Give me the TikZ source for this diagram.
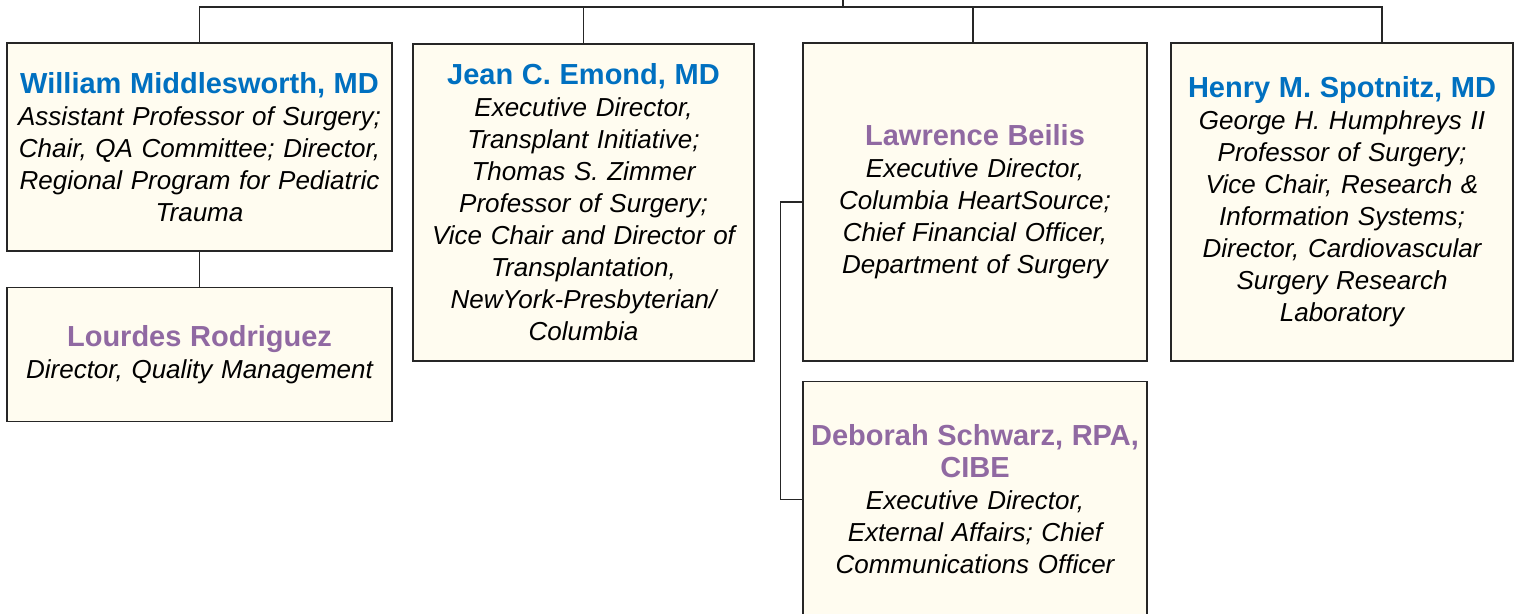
\documentclass[tikz,border=0pt]{standalone}
\usepackage{fontspec}
\setmainfont{Liberation Sans}
\usepackage{xcolor}
\usetikzlibrary{positioning,calc}
\definecolor{NB}{HTML}{0070C0}
\definecolor{NP}{HTML}{9069A2}
\definecolor{BoxFill}{HTML}{FFFCF0}
\newcommand{\pname}[2]{{\color{#1}\fontsize{29}{33}\selectfont\upshape\bfseries #2}}

\begin{document}
\begin{tikzpicture}[x=1pt, y=-1pt,
    person/.style={draw=black!85, line width=1.6pt, fill=BoxFill,
      inner sep=0pt, align=center,
      font=\fontsize{26}{32}\selectfont\itshape},
    link/.style={draw=black!85, line width=1.2pt}]
  \useasboundingbox (0,0) rectangle (1517,613);

  % top row
  \node[person, text width=385pt, minimum height=208pt] (will) at (199.5,147) {
    \pname{NB}{William Middlesworth, MD}\\
    Assistant Professor of Surgery;\\
    Chair, QA Committee; Director,\\
    Regional Program for Pediatric\\
    Trauma};
  \node[person, text width=341pt, minimum height=317pt] (jean) at (583.5,202.5) {
    \pname{NB}{Jean C. Emond, MD}\\
    Executive Director,\\
    Transplant Initiative;\\
    Thomas S. Zimmer\\
    Professor of Surgery;\\
    Vice Chair and Director of\\
    Transplantation,\\
    NewYork-Presbyterian/\\
    Columbia};
  \node[person, text width=344pt, minimum height=318pt] (law) at (975,202) {
    \pname{NP}{Lawrence Beilis}\\
    Executive Director,\\
    Columbia HeartSource;\\
    Chief Financial Officer,\\
    Department of Surgery};
  \node[person, text width=342pt, minimum height=318pt] (henry) at (1342,202) {
    \pname{NB}{Henry M. Spotnitz, MD}\\
    George H. Humphreys II\\
    Professor of Surgery;\\
    Vice Chair, Research \&\\
    Information Systems;\\
    Director, Cardiovascular\\
    Surgery Research\\
    Laboratory};

  % second row
  \node[person, text width=385pt, minimum height=134pt, below=35pt of will] (lour) {
    \pname{NP}{Lourdes Rodriguez}\\
    Director, Quality Management};
  \node[person, text width=344pt, minimum height=235pt, below=19pt of law] (deb) {
    \pname{NP}{Deborah Schwarz, RPA,}\\
    \pname{NP}{CIBE}\\
    Executive Director,\\
    External Affairs; Chief\\
    Communications Officer};

  % connectors
  \coordinate (root) at (843,0);
  \coordinate (bus) at (843,7);
  \coordinate (hin) at ($(henry.north)+(40,0)$);
  \coordinate (lin) at ($(law.north)+(-2,0)$);
  \draw[link] (root) -- (bus);
  \draw[link] (will.north) |- (bus) -| (hin);
  \draw[link] (jean.north) -- (jean.north |- bus);
  \draw[link] (lin) -- (lin |- bus);
  \draw[link] (will.south) -- (lour.north);
  \draw[link] (law.west) -- ++(-22,0) |- (deb.west);
\end{tikzpicture}
\end{document}
